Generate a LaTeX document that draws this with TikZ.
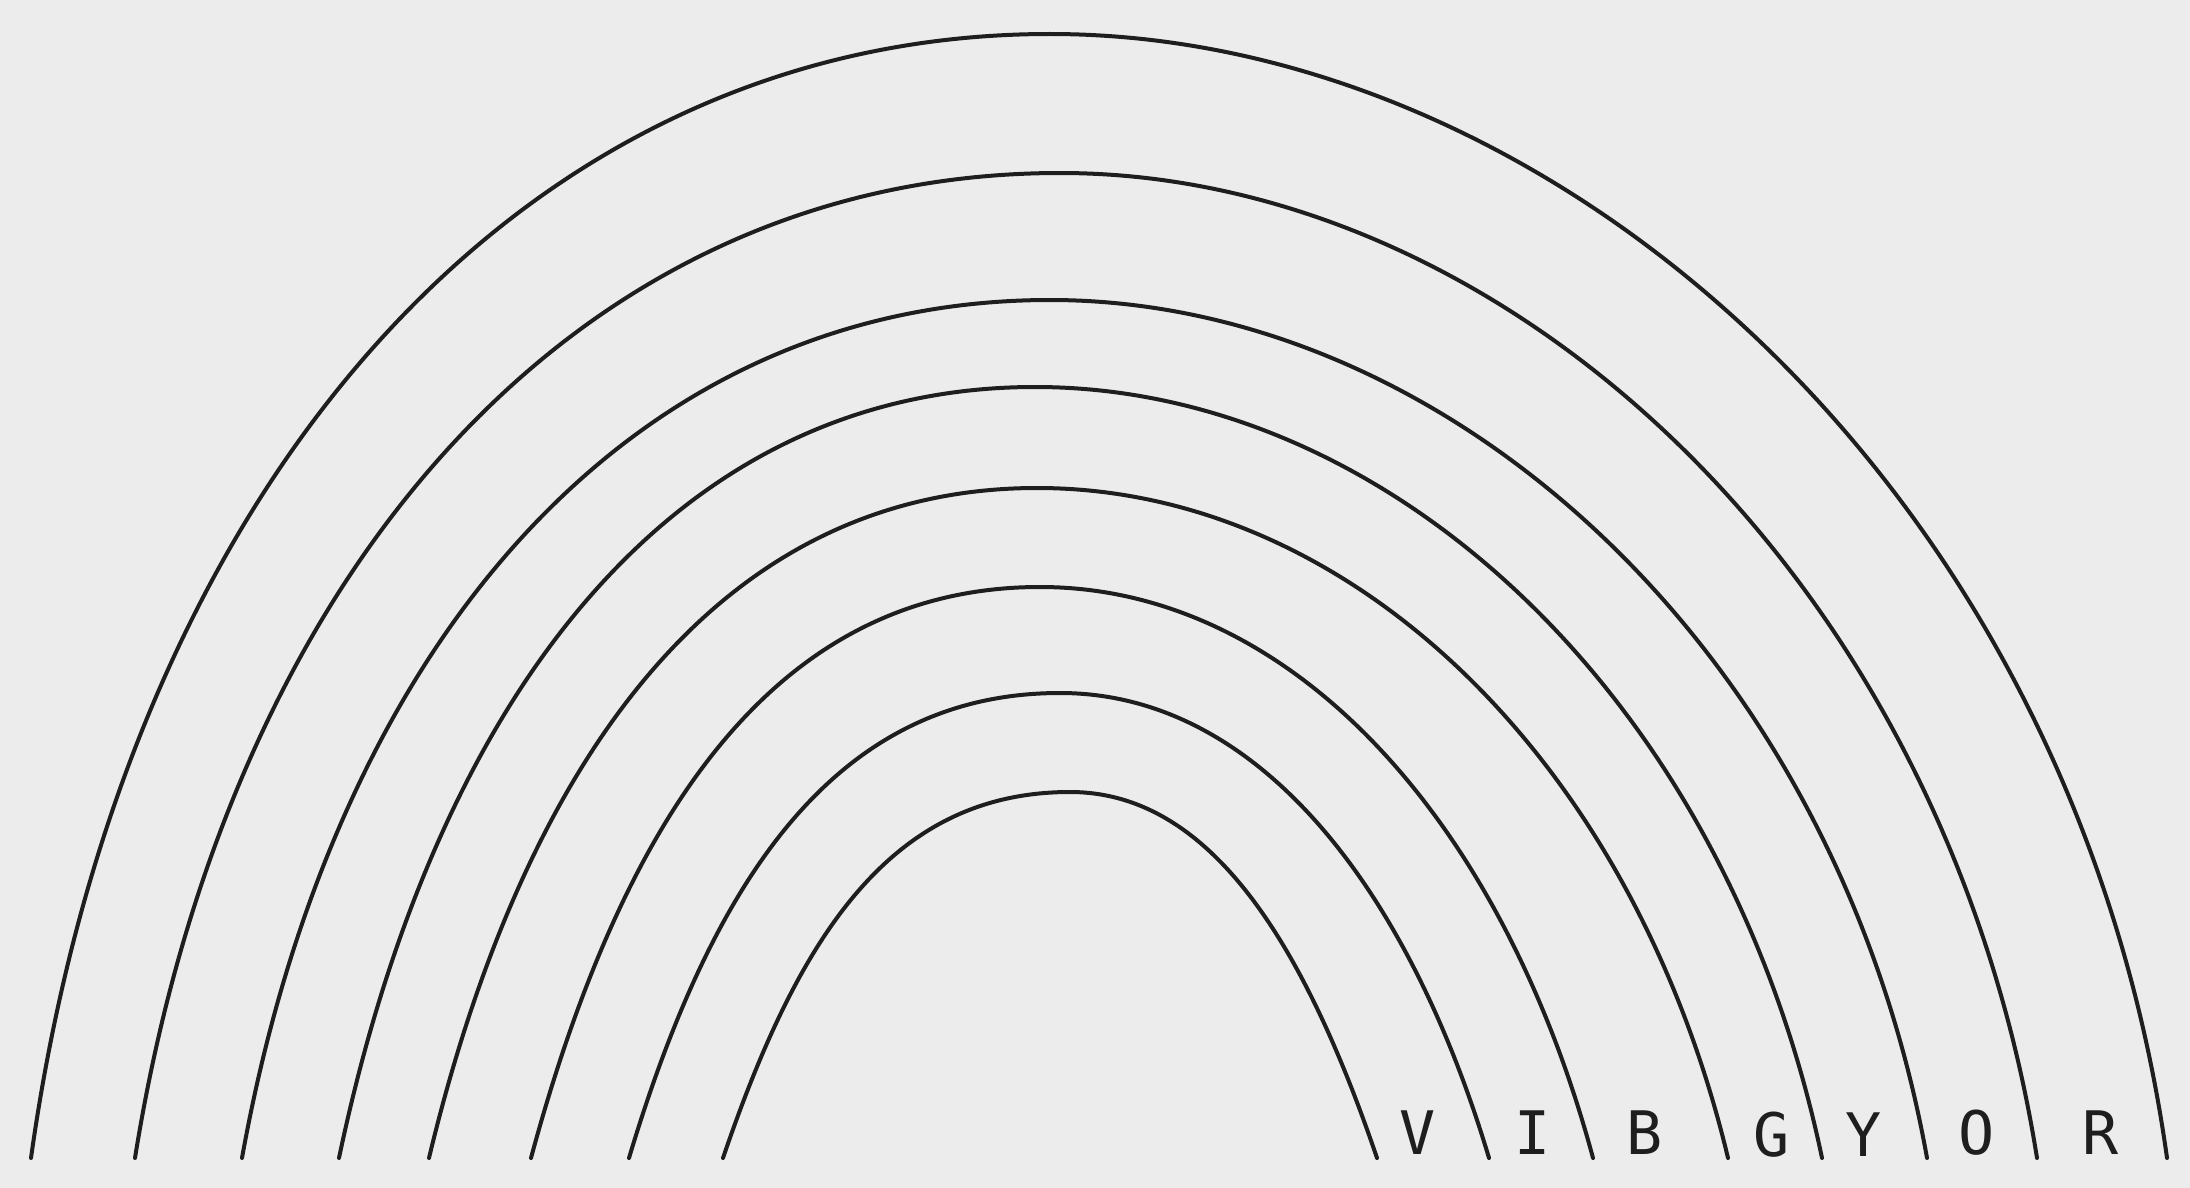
\documentclass[tikz,border=0pt]{standalone}
\usepackage{fontspec}
\newfontfamily\handfont{DejaVu Sans Mono}
\definecolor{paper}{RGB}{237,236,237}
\definecolor{ink}{RGB}{30,30,30}
\newcommand{\rbarc}[5]{% left x, right x, top x, top y, slant
  \pgfmathsetmacro{\rbh}{1158-#4}
  \pgfmathsetmacro{\rbax}{#1+0.6*\rbh*#5}
  \pgfmathsetmacro{\rbay}{1158-0.6*\rbh}
  \pgfmathsetmacro{\rbbx}{#3-0.52*(#3-#1)}
  \pgfmathsetmacro{\rbcx}{#3+0.45*(#2-#3)}
  \pgfmathsetmacro{\rbdx}{#2-0.6*\rbh*#5}
  \draw[arcline] (#1,1158) .. controls (\rbax,\rbay) and (\rbbx,#4) .. (#3,#4)
    .. controls (\rbcx,#4) and (\rbdx,\rbay) .. (#2,1158);
}
\begin{document}
\begin{tikzpicture}[x=0.5pt,y=-0.5pt,
  arcline/.style={draw=ink,line width=2pt,line cap=round,line join=round},
  lbl/.style={text=ink,font=\handfont\fontsize{30}{30}\selectfont,inner sep=0pt,anchor=base}]
\fill[paper] (0,0) rectangle (2190,1188);
\rbarc{31}{2167}{1050}{34}{0.14}
\rbarc{135}{2037}{1060}{173}{0.16}
\rbarc{242}{1927}{1050}{300}{0.18}
\rbarc{339}{1822}{1035}{387}{0.21}
\rbarc{429}{1728}{1037}{488}{0.24}
\rbarc{531}{1593}{1040}{587}{0.27}
\rbarc{629}{1489}{1060}{693}{0.30}
\rbarc{723}{1377}{1070}{792}{0.34}
\node[lbl] (v) at (1418,1154) {V};
\node[lbl] (i) at (1533,1154) {I};
\node[lbl] (b) at (1645,1154) {B};
\node[lbl] (g) at (1772,1156) {G};
\node[lbl] (y) at (1864,1156) {Y};
\node[lbl] (o) at (1977,1154) {O};
\node[lbl] (r) at (2101,1154) {R};
\end{tikzpicture}
\end{document}
